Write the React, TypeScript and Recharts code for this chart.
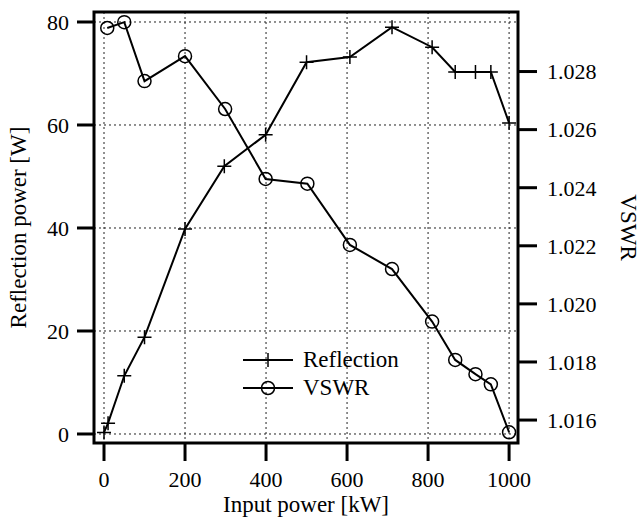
import React from 'react';
import { LineChart, Line, XAxis, YAxis, CartesianGrid, ReferenceArea, Legend } from 'recharts';

const FONT = 'Liberation Serif, DejaVu Serif, serif';

// Reflection power [W] vs input power [kW]
const reflectionInput = [0, 10, 50, 100, 200, 297, 399, 500, 607, 711, 810, 867, 917, 955, 1000];
const reflectionPower = [0.3, 2.1, 11.3, 18.8, 39.8, 52.0, 58.1, 72.2, 73.2, 79.0, 75.1, 70.3, 70.3, 70.3, 60.4];

// VSWR vs input power [kW]
const vswrInput = [8, 50, 100, 200, 299, 399, 502, 607, 711, 810, 867, 917, 955, 1000];
const vswrValues = [1.0295, 1.0297, 1.02767, 1.02853, 1.02671, 1.0243, 1.02414, 1.02203, 1.0212, 1.01939, 1.01807, 1.01758, 1.01723, 1.01558];

const xTicks = [0, 200, 400, 600, 800, 1000];
const powerTicks = [0, 20, 40, 60, 80];
const vswrTicks = [1.016, 1.018, 1.02, 1.022, 1.024, 1.026, 1.028];

const X_DOMAIN: [number, number] = [-24.7, 1022];
const P_DOMAIN: [number, number] = [-1.75, 81.94];
const V_DOMAIN: [number, number] = [1.01521, 1.03005];

const reflectionData = reflectionInput.map((x, i) => ({ x, power: reflectionPower[i] }));
const vswrData = vswrInput.map((x, i) => ({ x, vswr: vswrValues[i] }));

const tickStyle = { fill: '#000', fontSize: 22, fontFamily: FONT };
const tickLine = { stroke: '#000', strokeWidth: 3 };

const PlusDot = (props: any) => {
  const { cx, cy, index } = props;
  if (cx == null || cy == null) return <g key={`p-${index}`} />;
  return (
    <path
      key={`p-${index}`}
      d={`M${cx - 7},${cy}H${cx + 7}M${cx},${cy - 7}V${cy + 7}`}
      stroke="#000"
      strokeWidth={1.5}
      fill="none"
    />
  );
};

const CircleDot = (props: any) => {
  const { cx, cy, index } = props;
  if (cx == null || cy == null) return <g key={`c-${index}`} />;
  return <circle key={`c-${index}`} cx={cx} cy={cy} r={6.5} stroke="#000" strokeWidth={1.5} fill="none" />;
};

const LegendBox = () => (
  <div style={{ fontFamily: FONT, fontSize: 23, color: '#000', lineHeight: '28px' }}>
    {[
      { name: 'Reflection', marker: 'plus' },
      { name: 'VSWR', marker: 'circle' },
    ].map(item => (
      <div key={item.name} style={{ display: 'flex', alignItems: 'center', height: 28 }}>
        <svg width={52} height={28} style={{ marginRight: 9 }}>
          <line x1={1} y1={14} x2={51} y2={14} stroke="#000" strokeWidth={2} />
          {item.marker === 'plus' ? (
            <path d="M26,7V21M19,14H33" stroke="#000" strokeWidth={1.5} />
          ) : (
            <circle cx={26} cy={14} r={6.5} stroke="#000" strokeWidth={1.5} fill="none" />
          )}
        </svg>
        <span>{item.name}</span>
      </div>
    ))}
  </div>
);

const App: React.FC = () => {
  return (
    <div style={{ position: 'absolute', left: 0, top: 0, width: 640, height: 521, background: '#fff', fontFamily: FONT }}>
      <LineChart width={640} height={521} margin={{ top: 12, right: 0, bottom: 0, left: 0 }} style={{ fontFamily: FONT }}>
        <CartesianGrid
          xAxisId="bottom"
          yAxisId="left"
          stroke="#222"
          strokeDasharray="2 3"
          strokeWidth={1}
        />
        <XAxis
          xAxisId="bottom"
          dataKey="x"
          type="number"
          domain={X_DOMAIN}
          ticks={xTicks}
          allowDataOverflow
          height={78}
          axisLine={false}
          tickLine={tickLine}
          tickSize={18}
          tickMargin={10}
          tick={tickStyle}
          label={{ value: 'Input power [kW]', position: 'insideBottom', offset: 9, fill: '#000', fontSize: 23, fontFamily: FONT }}
        />
        <YAxis
          yAxisId="left"
          type="number"
          domain={P_DOMAIN}
          ticks={powerTicks}
          allowDataOverflow
          width={94}
          axisLine={false}
          tickLine={tickLine}
          tickSize={17}
          tickMargin={8}
          tick={tickStyle}
          label={{
            value: 'Reflection power [W]',
            angle: -90,
            position: 'insideLeft',
            offset: 18,
            fill: '#000',
            fontSize: 23,
            fontFamily: FONT,
            style: { textAnchor: 'middle' },
          }}
        />
        <YAxis
          yAxisId="right"
          orientation="right"
          type="number"
          domain={V_DOMAIN}
          ticks={vswrTicks}
          allowDataOverflow
          width={122}
          axisLine={false}
          tickLine={tickLine}
          tickSize={19}
          tickMargin={10}
          tick={tickStyle}
          tickFormatter={(v: number) => v.toFixed(3)}
          label={{
            value: 'VSWR',
            angle: 90,
            position: 'insideRight',
            offset: 11,
            fill: '#000',
            fontSize: 23,
            fontFamily: FONT,
            style: { textAnchor: 'middle' },
          }}
        />
        <ReferenceArea
          xAxisId="bottom"
          yAxisId="left"
          x1={X_DOMAIN[0]}
          x2={X_DOMAIN[1]}
          y1={P_DOMAIN[0]}
          y2={P_DOMAIN[1]}
          stroke="#000"
          strokeWidth={3}
          fill="none"
          fillOpacity={0}
          ifOverflow="visible"
        />
        <Line
          xAxisId="bottom"
          yAxisId="left"
          data={reflectionData}
          dataKey="power"
          name="Reflection"
          stroke="#000"
          strokeWidth={2}
          dot={PlusDot}
          activeDot={false}
          isAnimationActive={false}
        />
        <Line
          xAxisId="bottom"
          yAxisId="right"
          data={vswrData}
          dataKey="vswr"
          name="VSWR"
          stroke="#000"
          strokeWidth={2}
          dot={CircleDot}
          activeDot={false}
          isAnimationActive={false}
        />
        <Legend
          layout="horizontal"
          verticalAlign="middle"
          align="center"
          content={() => <LegendBox />}
          wrapperStyle={{ left: 242, top: 346, width: 'auto' }}
        />
      </LineChart>
    </div>
  );
};

export default App;
